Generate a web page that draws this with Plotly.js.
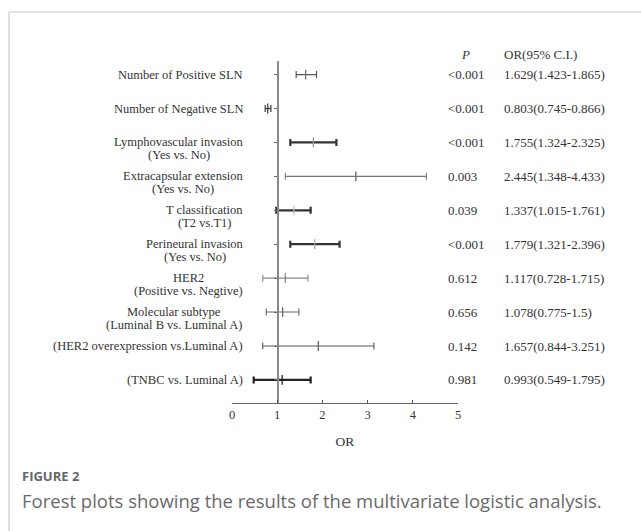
<!DOCTYPE html>
<html>
<head>
<meta charset="utf-8">
<script src="https://cdn.plot.ly/plotly-3.0.1.min.js"></script>
<style>html,body{margin:0;padding:0;background:#fff;}#chart{width:641px;height:531px;}</style>
</head>
<body>
<div id="chart"></div>
<script>
// ---- data ----
const labelLine1 = ["Number of Positive SLN","Number of Negative SLN","Lymphovascular invasion","Extracapsular extension","T classification","Perineural invasion","HER2","Molecular subtype","(HER2 overexpression vs.Luminal A)","(TNBC vs. Luminal A)"];
const labelLine2 = ["","","(Yes vs. No)","(Yes vs. No)","(T2 vs.T1)","(Yes vs. No)","(Positive vs. Negtive)","(Luminal B vs. Luminal A)","",""];
const orMid  = [1.63, 0.79, 1.80, 2.74, 1.37, 1.83, 1.18, 1.12, 1.91, 1.11];
const orLow  = [1.42, 0.735, 1.29, 1.18, 0.98, 1.29, 0.68, 0.757, 0.68, 0.48];
const orHigh = [1.87, 0.86, 2.31, 4.30, 1.74, 2.38, 1.68, 1.48, 3.14, 1.74];
const pText  = ["<0.001","<0.001","<0.001","0.003","0.039","<0.001","0.612","0.656","0.142","0.981"];
const orText = ["1.629(1.423-1.865)","0.803(0.745-0.866)","1.755(1.324-2.325)","2.445(1.348-4.433)","1.337(1.015-1.761)","1.779(1.321-2.396)","1.117(0.728-1.715)","1.078(0.775-1.5)","1.657(0.844-3.251)","0.993(0.549-1.795)"];
const xTicks = [0,1,2,3,4,5];

// ---- styles ----
const lineWidths   = [1.2,1.3,2.2,1.1,2.2,2.2,1.1,1.1,1.1,2.2];
const lineColors   = ['#555','#444','#333','#777','#333','#333','#888','#666','#555','#222'];
const markerColors = ['#777','#444','#999','#666','#bbb','#aaa','#888','#666','#666','#222'];

const W = 641, H = 531;
const M = {l:232, r:183, t:61, b:128};
const pw = W - M.l - M.r, ph = H - M.t - M.b;
const px2x = p => (p - M.l) / pw;          // paper x
const px2y = p => (H - M.b - p) / ph;      // paper y

const rows = labelLine1.map((_, i) => i + 1);
const serif = "'Liberation Serif', serif";
const labelSize = 12.5, numSize = 13;

const measure = (txt, size) => {
  const c = document.createElement('canvas').getContext('2d');
  c.font = size + 'px "Liberation Serif"';
  return c.measureText(txt).width;
};

const traces = rows.map((r, i) => ({
  type: 'scatter', mode: 'markers', x: [orMid[i]], y: [r],
  marker: {symbol: 'line-ns', size: 7, color: markerColors[i], line: {width: 1.3, color: markerColors[i]}},
  error_x: {type: 'data', symmetric: false, array: [orHigh[i] - orMid[i]], arrayminus: [orMid[i] - orLow[i]],
            width: 3.5, thickness: lineWidths[i], color: lineColors[i]},
  hoverinfo: 'skip', showlegend: false
}));

const labelRight = 243;
const lblFont = {family: serif, size: labelSize, color: '#333'};
const ann = [];
rows.forEach((r, i) => {
  if (labelLine2[i]) {
    const wMax = Math.max(measure(labelLine1[i], labelSize), measure(labelLine2[i], labelSize));
    const cx = px2x(labelRight - wMax / 2);
    ann.push({xref: 'paper', yref: 'y', x: cx, y: r, xanchor: 'center', yanchor: 'middle',
              text: labelLine1[i], showarrow: false, font: lblFont});
    ann.push({xref: 'paper', yref: 'y', x: cx, y: r, yshift: -12.5, xanchor: 'center', yanchor: 'middle',
              text: labelLine2[i], showarrow: false, font: lblFont});
  } else {
    ann.push({xref: 'paper', yref: 'y', x: px2x(labelRight + 2), y: r, xanchor: 'right', yanchor: 'middle',
              text: labelLine1[i], showarrow: false, font: lblFont});
  }
  ann.push({xref: 'paper', yref: 'y', x: px2x(446), y: r, xanchor: 'left', yanchor: 'middle', text: pText[i].replace('<', '&lt;'),
            showarrow: false, font: {family: serif, size: numSize, color: '#333'}});
  ann.push({xref: 'paper', yref: 'y', x: px2x(502), y: r, xanchor: 'left', yanchor: 'middle', text: orText[i],
            showarrow: false, font: {family: serif, size: numSize, color: '#333'}});
});
ann.push({xref: 'paper', yref: 'paper', x: px2x(459), y: px2y(54), xanchor: 'left', yanchor: 'middle', text: '<i>P</i>',
          showarrow: false, font: {family: serif, size: numSize, color: '#333'}});
ann.push({xref: 'paper', yref: 'paper', x: px2x(502), y: px2y(54), xanchor: 'left', yanchor: 'middle', text: 'OR(95% C.I.)',
          showarrow: false, font: {family: serif, size: numSize, color: '#333'}});
ann.push({xref: 'paper', yref: 'paper', x: px2x(20), y: px2y(476), xanchor: 'left', yanchor: 'middle', text: '<b>FIGURE 2</b>',
          showarrow: false, font: {family: "'Open Sans', sans-serif", size: 13, color: '#666'}});
ann.push({xref: 'paper', yref: 'paper', x: px2x(20), y: px2y(500), xanchor: 'left', yanchor: 'middle',
          text: 'Forest plots showing the results of the multivariate logistic analysis.',
          showarrow: false, font: {family: "'Open Sans', sans-serif", size: 18.5, color: '#6a6a6a'}});

const shapes = [
  {type: 'line', xref: 'paper', yref: 'paper', x0: px2x(9), x1: px2x(641), y0: px2y(12), y1: px2y(12), line: {color: '#cccccc', width: 1.2}},
  {type: 'line', xref: 'paper', yref: 'paper', x0: px2x(9), x1: px2x(9), y0: px2y(12), y1: px2y(531), line: {color: '#cccccc', width: 1.2}}
];

const layout = {
  width: W, height: H, margin: M, paper_bgcolor: '#fff', plot_bgcolor: 'rgba(0,0,0,0)',
  showlegend: false,
  xaxis: {range: [0, 5], tickvals: xTicks, ticktext: xTicks.map(String), ticks: 'inside', ticklen: 3, tickcolor: '#555',
          showline: true, linecolor: '#666', linewidth: 1.3, showgrid: false, zeroline: false, fixedrange: true,
          tickfont: {family: serif, size: 12.5, color: '#333'},
          title: {text: 'OR', font: {family: serif, size: 13.5, color: '#333'}, standoff: 15}},
  yaxis: {range: [10.68, 0.6], tickvals: rows, showticklabels: false, ticks: 'outside', ticklen: 3, tickcolor: '#666',
          showline: true, linecolor: '#888', linewidth: 1.5, showgrid: false, zeroline: false,
          anchor: 'free', position: 0.2, fixedrange: true},
  annotations: ann, shapes: shapes
};

Plotly.newPlot('chart', traces, layout, {displayModeBar: false, staticPlot: true});
</script>
</body>
</html>
